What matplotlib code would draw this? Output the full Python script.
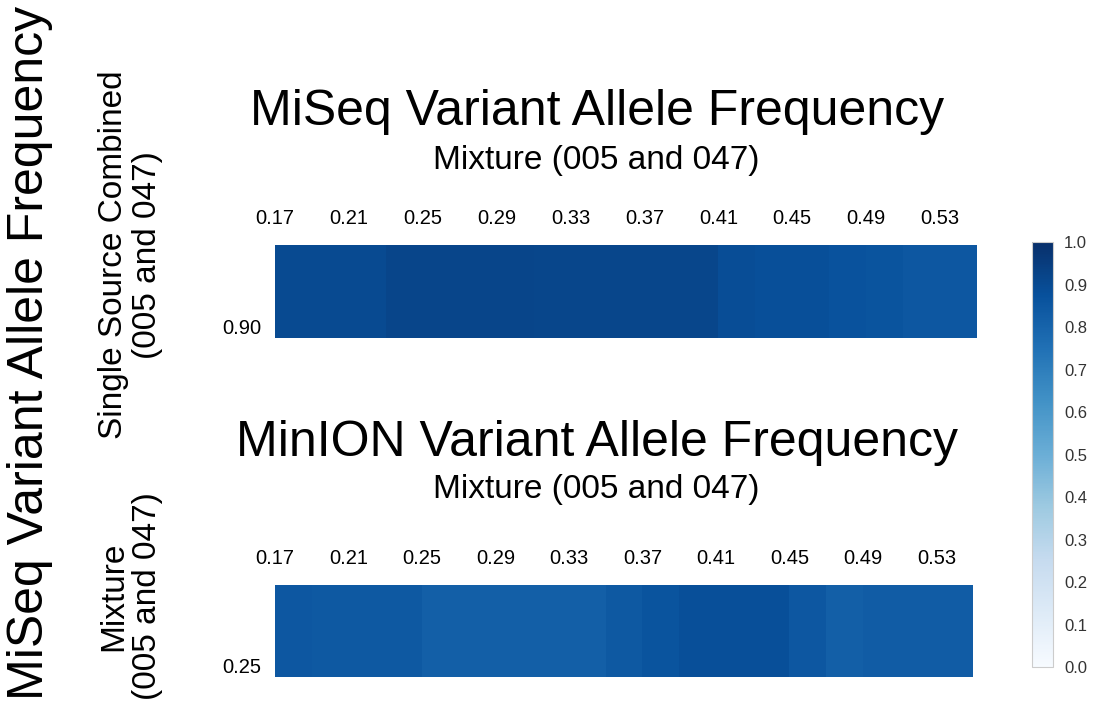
import numpy as np
import matplotlib
matplotlib.use("Agg")
from matplotlib import pyplot as plt

plt.rcParams['font.family'] = ['Liberation Sans', 'DejaVu Sans']

# column categories (mixture VAF) and labels shown on top
mix_vaf = [0.17, 0.19, 0.21, 0.23, 0.25, 0.27, 0.29, 0.31, 0.33, 0.35,
           0.37, 0.39, 0.41, 0.43, 0.45, 0.47, 0.49, 0.51, 0.53]
top_labels = ['0.17', '0.21', '0.25', '0.29', '0.33', '0.37', '0.41',
              '0.45', '0.49', '0.53']

# cell values
miseq_vals = [0.90, 0.90, 0.90, 0.92, 0.92, 0.92, 0.92, 0.915, 0.915, 0.915,
              0.915, 0.915, 0.89, 0.88, 0.88, 0.87, 0.86, 0.85, 0.85]
minion_vals = [0.85, 0.84, 0.84, 0.84, 0.82, 0.82, 0.82, 0.82, 0.82, 0.84,
               0.86, 0.88, 0.88, 0.88, 0.85, 0.82, 0.83, 0.83, 0.83]

row_top = '0.90'
row_bottom = '0.25'

fig = plt.figure(figsize=(11.05, 7.06), dpi=100)

cmap = plt.get_cmap('Blues')


def strip(rect, vals, ylab):
    ax = fig.add_axes(rect)
    n = len(vals)
    mesh = ax.pcolormesh(np.arange(n + 1), [0, 1], np.array([vals]),
                         cmap=cmap, vmin=0, vmax=1)
    ax.xaxis.tick_top()
    ax.set_xticks(np.arange(0, n, 2))
    ax.set_xticklabels(top_labels, fontsize=14.5)
    ax.set_yticks([0])
    ax.set_yticklabels([ylab], fontsize=14.5, va='bottom')
    ax.set_xlim(0, n)
    ax.set_ylim(0, 1)
    ax.tick_params(length=0, pad=10)
    ax.tick_params(axis='x', pad=12)
    for sp in ax.spines.values():
        sp.set_visible(False)
    return mesh


mesh = strip([0.2489, 0.5212, 0.6353, 0.1317], miseq_vals, row_top)
strip([0.2489, 0.0411, 0.6317, 0.1303], minion_vals, row_bottom)

fig.text(0.540, 0.841, 'MiSeq Variant Allele Frequency', fontsize=36,
         ha='center', va='center')
fig.text(0.540, 0.773, 'Mixture (005 and 047)', fontsize=24,
         ha='center', va='center')
fig.text(0.540, 0.372, 'MinION Variant Allele Frequency', fontsize=36,
         ha='center', va='center')
fig.text(0.540, 0.306, 'Mixture (005 and 047)', fontsize=24,
         ha='center', va='center')

fig.text(0.027, 0.5, 'MiSeq Variant Allele Frequency', fontsize=36,
         rotation=90, ha='center', va='center')
fig.text(0.118, 0.639, 'Single Source Combined\n(005 and 047)', fontsize=24,
         rotation=90, ha='center', va='center', linespacing=1.1)
fig.text(0.118, 0.156, 'Mixture\n(005 and 047)', fontsize=24,
         rotation=90, ha='center', va='center', linespacing=1.1)

cax = fig.add_axes([0.934, 0.0552, 0.019, 0.602])
cb = fig.colorbar(mesh, cax=cax, ticks=np.arange(0, 1.01, 0.1))
cb.ax.set_yticklabels(['%.1f' % v for v in np.arange(0, 1.01, 0.1)])
cb.ax.tick_params(length=0, labelsize=12, labelcolor='#333333', pad=8)
cb.outline.set_edgecolor('#cccccc')
cb.outline.set_linewidth(0.8)

fig.savefig('out.png', dpi=100)
